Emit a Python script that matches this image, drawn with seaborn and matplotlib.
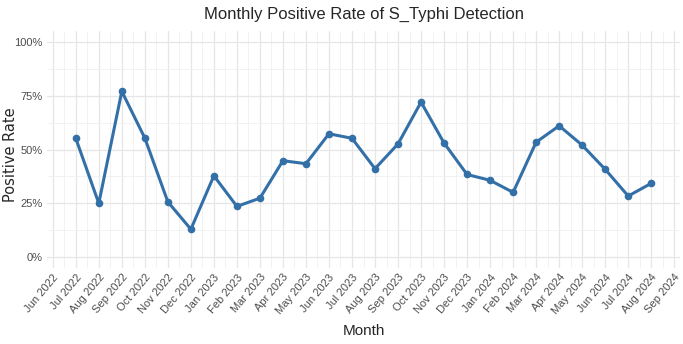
import pandas as pd
import numpy as np
import matplotlib.pyplot as plt
import matplotlib.ticker as mticker
import seaborn as sns

# Monthly positive rate (%), Jul 2022 - Aug 2024
months = ['Jul 2022', 'Aug 2022', 'Sep 2022', 'Oct 2022', 'Nov 2022', 'Dec 2022',
          'Jan 2023', 'Feb 2023', 'Mar 2023', 'Apr 2023', 'May 2023', 'Jun 2023',
          'Jul 2023', 'Aug 2023', 'Sep 2023', 'Oct 2023', 'Nov 2023', 'Dec 2023',
          'Jan 2024', 'Feb 2024', 'Mar 2024', 'Apr 2024', 'May 2024', 'Jun 2024',
          'Jul 2024', 'Aug 2024']
positive_rate = [55.2, 25.0, 77.0, 55.3, 25.7, 13.0,
                 37.8, 23.6, 27.4, 44.8, 43.4, 57.3,
                 55.2, 41.1, 52.6, 72.0, 53.0, 38.4,
                 35.7, 30.1, 53.4, 61.0, 52.0, 40.8,
                 28.4, 34.3]
tick_labels = ['Jun 2022'] + months + ['Sep 2024']

df = pd.DataFrame({'month': months, 'rate': positive_rate})
df['idx'] = np.arange(len(df))

sns.set_style('whitegrid')
plt.rcParams['font.family'] = ['Liberation Sans', 'DejaVu Sans']

fig = plt.figure(figsize = (6.83, 3.44), dpi = 100)
ax = fig.add_axes([47 / 683, 1 - 268 / 344, 633 / 683, 237 / 344])

sns.lineplot(data = df, x = 'idx', y = 'rate', color = '#3470A8', linewidth = 2.2,
             marker = 'o', markersize = 5.5, markeredgewidth = 0, ax = ax)

ax.set_xlim(-1.25, 26.25)
ax.set_ylim(-5, 105)
ax.set_xticks(np.arange(-1, 27))
ax.set_xticklabels(tick_labels, rotation = 50, ha = 'right', rotation_mode = 'anchor',
                   fontsize = 8, color = '#4D4D4D')
ax.xaxis.set_minor_locator(mticker.FixedLocator(np.arange(-1.5, 27, 1)))
ax.set_yticks([0, 25, 50, 75, 100])
ax.set_yticklabels(['0%', '25%', '50%', '75%', '100%'], fontsize = 8, color = '#4D4D4D')
ax.yaxis.set_minor_locator(mticker.FixedLocator([12.5, 37.5, 62.5, 87.5]))

ax.grid(which = 'major', color = '#E6E6E6', linewidth = 0.9)
ax.grid(which = 'minor', color = '#F0F0F0', linewidth = 0.6)
ax.tick_params(which = 'both', length = 0, pad = 3)
for s in ax.spines.values():
    s.set_visible(False)

ax.set_title('Monthly Positive Rate of S_Typhi Detection', fontsize = 12, pad = 9)
ax.set_xlabel('Month', fontsize = 11)
ax.xaxis.set_label_coords(0.5, -0.235)
ax.set_ylabel('Positive Rate', fontsize = 10.5, family = ['DejaVu Sans'])
ax.yaxis.set_label_coords(-0.046, 0.48)

fig.savefig('out.png', dpi = 100)
